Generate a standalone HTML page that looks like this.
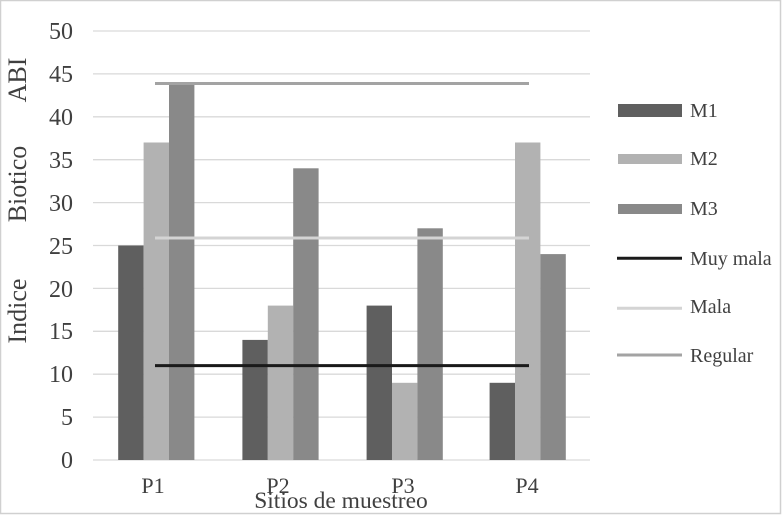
<!DOCTYPE html>
<html>
<head>
<meta charset="utf-8">
<style>
  html, body { margin:0; padding:0; background:#fff; }
  svg { display:block; }
  text { font-family: "Liberation Serif", "DejaVu Serif", serif; fill:#404040; }
</style>
</head>
<body>
<svg width="784" height="515" viewBox="0 0 784 515" xmlns="http://www.w3.org/2000/svg">
  <rect x="0.5" y="0.5" width="780" height="513" fill="#fff" stroke="#d0d0d0" stroke-width="1.5"/>

  <!-- gridlines -->
  <g stroke="#d9d9d9" stroke-width="1.3">
    <line x1="93" y1="31" x2="590" y2="31"/>
    <line x1="93" y1="73.9" x2="590" y2="73.9"/>
    <line x1="93" y1="116.8" x2="590" y2="116.8"/>
    <line x1="93" y1="159.7" x2="590" y2="159.7"/>
    <line x1="93" y1="202.6" x2="590" y2="202.6"/>
    <line x1="93" y1="245.5" x2="590" y2="245.5"/>
    <line x1="93" y1="288.4" x2="590" y2="288.4"/>
    <line x1="93" y1="331.3" x2="590" y2="331.3"/>
    <line x1="93" y1="374.2" x2="590" y2="374.2"/>
    <line x1="93" y1="417.1" x2="590" y2="417.1"/>
    <line x1="93" y1="460" x2="590" y2="460"/>
  </g>

  <!-- y tick labels -->
  <g font-size="24" text-anchor="end">
    <text x="73" y="39">50</text>
    <text x="73" y="82">45</text>
    <text x="73" y="125">40</text>
    <text x="73" y="168">35</text>
    <text x="73" y="211">30</text>
    <text x="73" y="254">25</text>
    <text x="73" y="297">20</text>
    <text x="73" y="339">15</text>
    <text x="73" y="382">10</text>
    <text x="73" y="425">5</text>
    <text x="73" y="468">0</text>
  </g>

  <!-- bars -->
  <rect x="118.2" y="245.5" width="25.4" height="214.5" fill="#5f5f5f"/>
  <rect x="143.6" y="142.5" width="25.4" height="317.5" fill="#b2b2b2"/>
  <rect x="169.0" y="82.5" width="25.4" height="377.5" fill="#898989"/>

  <rect x="242.4" y="339.9" width="25.4" height="120.1" fill="#5f5f5f"/>
  <rect x="267.8" y="305.6" width="25.4" height="154.4" fill="#b2b2b2"/>
  <rect x="293.2" y="168.3" width="25.4" height="291.7" fill="#898989"/>

  <rect x="366.6" y="305.6" width="25.4" height="154.4" fill="#5f5f5f"/>
  <rect x="392.0" y="382.8" width="25.4" height="77.2" fill="#b2b2b2"/>
  <rect x="417.4" y="228.3" width="25.4" height="231.7" fill="#898989"/>

  <rect x="489.6" y="382.8" width="25.4" height="77.2" fill="#5f5f5f"/>
  <rect x="515.0" y="142.5" width="25.4" height="317.5" fill="#b2b2b2"/>
  <rect x="540.4" y="254.1" width="25.4" height="205.9" fill="#898989"/>

  <!-- reference lines -->
  <line x1="155" y1="365.6" x2="529" y2="365.6" stroke="#1a1a1a" stroke-width="3"/>
  <line x1="155" y1="238" x2="529" y2="238" stroke="#d4d4d4" stroke-width="3"/>
  <line x1="155" y1="83.5" x2="529" y2="83.5" stroke="#a3a3a3" stroke-width="3"/>

  <!-- x labels -->
  <g font-size="22" text-anchor="middle">
    <text x="153" y="493">P1</text>
    <text x="278" y="493">P2</text>
    <text x="403" y="493">P3</text>
    <text x="527" y="493">P4</text>
  </g>
  <text x="341" y="508" font-size="23.5" text-anchor="middle">Sitios de muestreo</text>

  <!-- y axis title -->
  <g font-size="26" text-anchor="middle">
    <text transform="translate(26,311) rotate(-90)">Indice</text>
    <text transform="translate(26,184) rotate(-90)">Biotico</text>
    <text transform="translate(26,80) rotate(-90)">ABI</text>
  </g>

  <!-- legend -->
  <rect x="618" y="104" width="64" height="13" fill="#5f5f5f"/>
  <rect x="618" y="154" width="64" height="10" fill="#b2b2b2"/>
  <rect x="618" y="204" width="64" height="10" fill="#898989"/>
  <line x1="617" y1="258.3" x2="682" y2="258.3" stroke="#1a1a1a" stroke-width="3"/>
  <line x1="617" y1="308.3" x2="682" y2="308.3" stroke="#d4d4d4" stroke-width="3"/>
  <line x1="617" y1="355" x2="682" y2="355" stroke="#a3a3a3" stroke-width="3"/>
  <g font-size="20">
    <text x="690" y="117">M1</text>
    <text x="690" y="165">M2</text>
    <text x="690" y="215">M3</text>
    <text x="690" y="265">Muy mala</text>
    <text x="690" y="313">Mala</text>
    <text x="690" y="362">Regular</text>
  </g>
</svg>
</body>
</html>
